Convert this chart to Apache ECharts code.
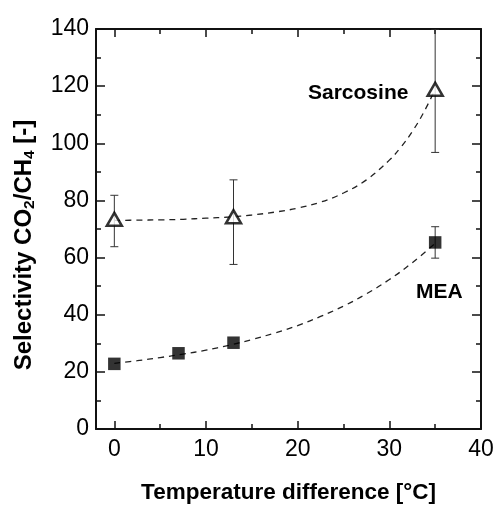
<!DOCTYPE html>
<html>
<head>
<meta charset="utf-8">
<script src="https://cdn.jsdelivr.net/npm/echarts@6/dist/echarts.min.js"></script>
<style>
  html, body { margin: 0; padding: 0; background: #ffffff; }
  #chart { width: 497px; height: 509px; }
</style>
</head>
<body>
<div id="chart"></div>
<script>
// Axis ticks
const xTickValues = [0, 10, 20, 30, 40];
const xMinorTickValues = [5, 15, 25, 35];

// Sarcosine measurements with error bars
const sarcX = [0, 13, 35];
const sarcY = [73.4, 74.3, 118.9];
const sarcLow = [63.8, 57.6, 96.8];
const sarcHigh = [81.8, 87.2, 140.0];

// MEA measurements (only the last point has a visible error bar)
const meaX = [0, 7, 13, 35];
const meaY = [22.8, 26.5, 30.2, 65.3];
const meaLow = [null, null, null, 59.8];
const meaHigh = [null, null, null, 70.8];

// Dashed trend curves
const sarcFitX = [0, 2.5, 5, 7.5, 10, 12.5, 15, 17.5, 20, 22.5, 25, 27.5, 30, 31.25, 32.5, 33.75, 35];
const sarcFitY = [73.0, 73.1, 73.2, 73.4, 73.8, 74.2, 74.9, 75.9, 77.3, 79.4, 82.6, 87.2, 94.1, 98.6, 104.1, 110.8, 118.9];
const meaFitX = [0, 2.5, 5, 7.5, 10, 12.5, 15, 17.5, 20, 22.5, 25, 27.5, 30, 32.5, 35];
const meaFitY = [23.0, 23.9, 25.0, 26.2, 27.6, 29.3, 31.3, 33.6, 36.2, 39.4, 43.0, 47.3, 52.3, 58.2, 65.0];

const FONT = 'Liberation Sans, Arial, Helvetica, sans-serif';

function zip(xs, ys) { return xs.map((x, i) => [x, ys[i]]); }

function errorData(xs, lo, hi) {
  const out = [];
  xs.forEach((x, i) => { if (lo[i] != null && hi[i] != null) out.push([x, lo[i], hi[i]]); });
  return out;
}

function renderErrorBar(params, api) {
  const x = api.value(0);
  const lo = api.coord([x, api.value(1)]);
  const hi = api.coord([x, api.value(2)]);
  const cap = 4;
  const style = { stroke: '#333', lineWidth: 1, fill: null };
  return {
    type: 'group',
    children: [
      { type: 'line', shape: { x1: lo[0], y1: lo[1], x2: hi[0], y2: hi[1] }, style },
      { type: 'line', shape: { x1: lo[0] - cap, y1: lo[1], x2: lo[0] + cap, y2: lo[1] }, style },
      { type: 'line', shape: { x1: hi[0] - cap, y1: hi[1], x2: hi[0] + cap, y2: hi[1] }, style }
    ]
  };
}

const axisLineStyle = { color: '#111', width: 2 };

function xAxisDef(position, ticks, len, showLabel, showLine) {
  return {
    type: 'value', min: -2, max: 40, position,
    axisLine: { show: showLine, onZero: false, lineStyle: axisLineStyle },
    axisTick: { show: true, inside: true, length: len, customValues: ticks, lineStyle: { color: '#111', width: 1.5 } },
    axisLabel: showLabel ? {
      show: true, customValues: xTickValues, margin: 9,
      fontFamily: FONT, fontSize: 23, color: '#000'
    } : { show: false },
    splitLine: { show: false },
    name: position === 'bottom' && showLabel ? 'Temperature difference [°C]' : '',
    nameLocation: 'middle', nameGap: 52,
    nameTextStyle: { fontFamily: FONT, fontSize: 22.5, fontWeight: 'bold', color: '#000' }
  };
}

function yAxisDef(position, showLabel) {
  return {
    type: 'value', min: 0, max: 140, interval: 20, position,
    axisLine: { show: true, onZero: false, lineStyle: axisLineStyle },
    axisTick: { show: true, inside: true, length: 9, lineStyle: { color: '#111', width: 1.5 } },
    minorTick: { show: true, splitNumber: 2, length: 5, lineStyle: { color: '#111', width: 1.5 } },
    axisLabel: showLabel ? { show: true, margin: 7, fontFamily: FONT, fontSize: 23, color: '#000' } : { show: false },
    splitLine: { show: false },
    name: showLabel ? 'Selectivity CO{sub|2}/CH{sub|4} [-]' : '',
    nameLocation: 'middle', nameRotate: 90, nameGap: 58,
    nameTextStyle: {
      fontFamily: FONT, fontSize: 24, fontWeight: 'bold', color: '#000', lineHeight: 27,
      padding: [0, 32, 0, 0],
      rich: { sub: { fontFamily: FONT, fontSize: 15.5, fontWeight: 'bold', color: '#000', verticalAlign: 'bottom', lineHeight: 27 } }
    }
  };
}

const chart = echarts.init(document.getElementById('chart'), null, { renderer: 'canvas' });

chart.setOption({
  backgroundColor: '#ffffff',
  animation: false,
  grid: { left: 96, right: 16, top: 29, bottom: 75, containLabel: false },
  xAxis: [
    xAxisDef('bottom', xTickValues, 8, true, true),
    xAxisDef('bottom', xMinorTickValues, 5, false, false),
    xAxisDef('top', xTickValues, 8, false, true),
    xAxisDef('top', xMinorTickValues, 5, false, false)
  ],
  yAxis: [yAxisDef('left', true), yAxisDef('right', false)],
  series: [
    {
      type: 'line', data: zip(sarcFitX, sarcFitY), smooth: 0.4, showSymbol: false, symbol: 'none',
      lineStyle: { color: '#222', width: 1.3, type: [6, 5] }, z: 2, silent: true
    },
    {
      type: 'line', data: zip(meaFitX, meaFitY), smooth: 0.4, showSymbol: false, symbol: 'none',
      lineStyle: { color: '#222', width: 1.3, type: [6, 5] }, z: 2, silent: true
    },
    { type: 'custom', data: errorData(sarcX, sarcLow, sarcHigh), renderItem: renderErrorBar, z: 3, clip: true },
    { type: 'custom', data: errorData(meaX, meaLow, meaHigh), renderItem: renderErrorBar, z: 3, clip: true },
    {
      type: 'scatter', data: zip(sarcX, sarcY), symbol: 'triangle', symbolSize: [15, 13],
      itemStyle: { color: '#ffffff', borderColor: '#000', borderWidth: 2.5 }, z: 5
    },
    {
      type: 'scatter', data: zip(meaX, meaY), symbol: 'rect', symbolSize: 12.5,
      itemStyle: { color: '#000' }, z: 5
    }
  ],
  graphic: [
    { type: 'text', left: 308, top: 83, style: { text: 'Sarcosine', font: 'bold 21px ' + FONT, fill: '#000' } },
    { type: 'text', left: 416, top: 282, style: { text: 'MEA', font: 'bold 21px ' + FONT, fill: '#000' } }
  ]
});
</script>
</body>
</html>
